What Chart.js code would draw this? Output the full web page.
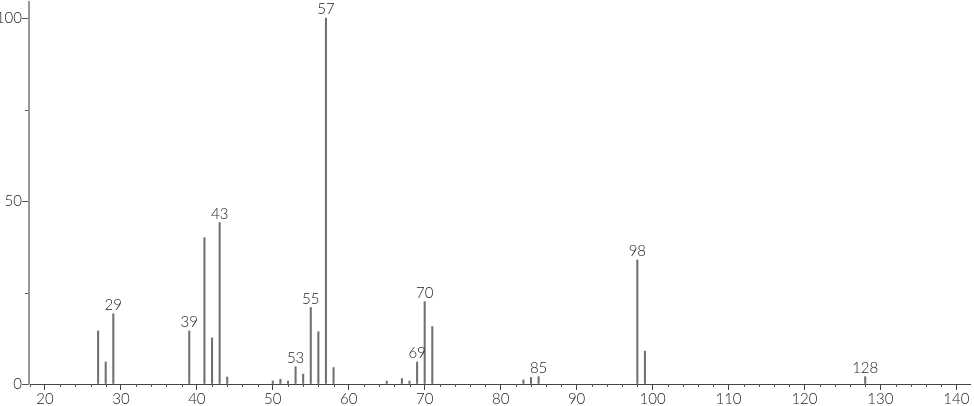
<!DOCTYPE html>
<html>
<head>
<meta charset="utf-8">
<script src="https://cdn.jsdelivr.net/npm/chart.js@4/dist/chart.umd.min.js"></script>
<style>
html,body{margin:0;padding:0;background:#fff;}
#wrap{width:974px;height:406px;position:relative;}
</style>
</head>
<body>
<div id="wrap"><canvas id="c" width="974" height="406"></canvas></div>
<script>
// m/z values of peaks
const mz = [27, 28, 29, 39, 41, 42, 43, 44, 50, 51, 52, 53, 54, 55, 56, 57, 58, 65, 67, 68, 69, 70, 71, 83, 84, 85, 98, 99, 128];
// relative intensities (%)
const intensity = [14.5, 6.0, 19.2, 14.5, 40.0, 12.6, 44.1, 1.9, 0.8, 1.3, 0.8, 4.7, 2.7, 20.9, 14.3, 100, 4.5, 0.8, 1.5, 0.8, 6.0, 22.5, 15.7, 1.1, 1.8, 2.0, 33.9, 9.0, 2.0];
// peaks that carry a label
const labelledPeaks = [29, 39, 43, 53, 55, 57, 69, 70, 85, 98, 128];
// axis label values
const xTickLabels = [20, 30, 40, 50, 60, 70, 80, 90, 100, 110, 120, 130, 140];
const yTickLabels = [0, 50, 100];

const FONT = 'Lato, "DejaVu Sans", sans-serif';

const peakLabelPlugin = {
  id: 'peakLabels',
  afterDatasetsDraw(chart) {
    const ctx = chart.ctx;
    const xs = chart.scales.x, ys = chart.scales.y;
    ctx.save();
    // minor ticks (short)
    ctx.strokeStyle = '#555';
    ctx.lineWidth = 1;
    ctx.beginPath();
    xs.ticks.forEach(t => {
      if (xTickLabels.includes(t.value)) return;
      const px = Math.round(xs.getPixelForValue(t.value)) + 0.5;
      ctx.moveTo(px, xs.top);
      ctx.lineTo(px, xs.top + 3);
    });
    ys.ticks.forEach(t => {
      if (yTickLabels.includes(t.value)) return;
      const py = Math.round(ys.getPixelForValue(t.value)) + 0.5;
      ctx.moveTo(ys.right - 1, py);
      ctx.lineTo(ys.right - 4, py);
    });
    ctx.stroke();
    // peak labels
    ctx.font = '300 15px ' + FONT;
    ctx.fillStyle = '#222';
    ctx.textAlign = 'center';
    ctx.textBaseline = 'alphabetic';
    mz.forEach((m, i) => {
      if (!labelledPeaks.includes(m)) return;
      const px = xs.getPixelForValue(m);
      const py = ys.getPixelForValue(intensity[i]);
      ctx.fillText(String(m), px, py - 4);
    });
    ctx.restore();
  }
};

new Chart(document.getElementById('c'), {
  type: 'bar',
  data: {
    datasets: [{
      data: mz.map((m, i) => ({x: m, y: intensity[i]})),
      backgroundColor: '#707070',
      borderWidth: 0,
      barThickness: 1.4
    }]
  },
  options: {
    responsive: false,
    animation: false,
    events: [],
    layout: {padding: {top: 2, right: 4, left: 0, bottom: 0}},
    plugins: {legend: {display: false}, tooltip: {enabled: false}},
    scales: {
      x: {
        type: 'linear',
        offset: false,
        min: 17.9,
        max: 141.8,
        afterFit(s) { s.height = 22; s.paddingLeft = 0; s.paddingRight = 0; },
        border: {color: '#444', width: 1},
        grid: {
          offset: false, drawOnChartArea: false, tickLength: 6, tickWidth: 1,
          tickColor: c => xTickLabels.includes(c.tick && c.tick.value) ? '#444' : 'rgba(0,0,0,0)'
        },
        ticks: {
          stepSize: 2,
          includeBounds: false,
          autoSkip: false,
          maxRotation: 0,
          padding: 0,
          color: '#222',
          font: {family: FONT, size: 15, weight: '300'},
          callback: v => xTickLabels.includes(v) ? String(v) : ''
        }
      },
      y: {
        min: 0,
        max: 104.4,
        afterFit(s) { s.width = 29; s.paddingTop = 0; s.paddingBottom = 0; },
        border: {color: '#999', width: 2},
        grid: {
          drawOnChartArea: false, tickLength: 7, tickWidth: 1,
          tickColor: c => yTickLabels.includes(c.tick && c.tick.value) ? '#555' : 'rgba(0,0,0,0)'
        },
        ticks: {
          stepSize: 25,
          includeBounds: false,
          autoSkip: false,
          padding: 0,
          color: '#222',
          font: {family: FONT, size: 15, weight: '300'},
          callback: v => yTickLabels.includes(v) ? String(v) : ''
        }
      }
    }
  },
  plugins: [peakLabelPlugin]
});
</script>
</body>
</html>
